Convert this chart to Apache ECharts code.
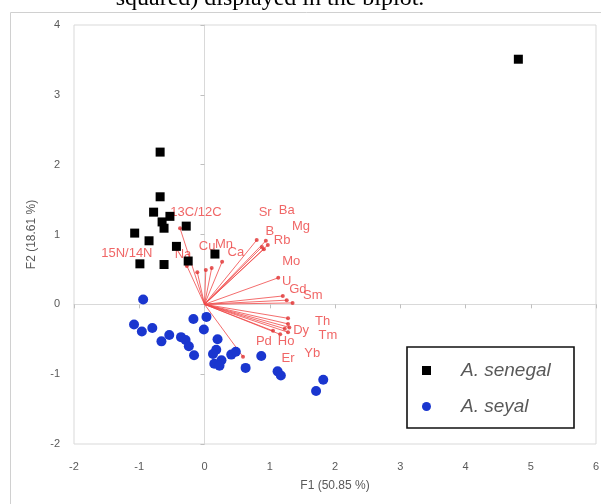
<!DOCTYPE html>
<html><head><meta charset="utf-8">
<script src="https://cdn.jsdelivr.net/npm/echarts@6/dist/echarts.min.js"></script>
<style>html,body{margin:0;padding:0;background:#fff}#c{width:601px;height:504px}</style>
</head><body><div id="c"></div>
<script>
// ---- data ----
const senegalX = [-0.68,-0.68,-0.78,-0.53,-0.65,-0.62,-0.28,-1.07,-0.85,-0.43,-0.99,-0.62,-0.25,0.16,4.81];
const senegalY = [2.18,1.54,1.32,1.26,1.18,1.09,1.12,1.02,0.91,0.83,0.58,0.57,0.62,0.72,3.51];
const seyalX = [-0.94,-1.08,-0.96,-0.80,-0.17,0.03,-0.01,-0.54,-0.66,-0.36,-0.29,-0.24,-0.16,0.20,0.18,0.13,0.15,0.26,0.23,0.41,0.48,0.63,0.87,1.12,1.17,1.82,1.71];
const seyalY = [0.07,-0.29,-0.39,-0.34,-0.21,-0.18,-0.36,-0.44,-0.53,-0.47,-0.51,-0.60,-0.73,-0.50,-0.65,-0.71,-0.85,-0.80,-0.88,-0.72,-0.68,-0.91,-0.74,-0.96,-1.02,-1.08,-1.24];
const varNames = ['13C/12C','15N/14N','Na','Cu','Mn','Ca','Sr','Ba','Mg','B','Rb','Mo','U','Gd','Sm','Th','Dy','Tm','Yb','Ho','Pd','Er',''];
const varX = [-0.375,-0.27,-0.11,0.02,0.11,0.27,0.80,0.94,0.97,0.88,0.91,1.13,1.20,1.26,1.35,1.28,1.28,1.30,1.28,1.23,1.05,1.16,0.59];
const varY = [1.09,0.55,0.46,0.49,0.52,0.61,0.92,0.91,0.85,0.82,0.79,0.38,0.12,0.06,0.02,-0.20,-0.28,-0.33,-0.40,-0.35,-0.38,-0.43,-0.75];
const labelX = [-0.13,-1.19,-0.33,0.04,0.30,0.48,0.93,1.26,1.48,1.00,1.19,1.33,1.26,1.43,1.66,1.81,1.48,1.89,1.65,1.25,0.91,1.28,0];
const labelY = [1.31,0.73,0.71,0.83,0.86,0.75,1.31,1.35,1.11,1.04,0.92,0.61,0.33,0.22,0.13,-0.25,-0.37,-0.45,-0.70,-0.53,-0.53,-0.77,0];
const xTickLabels = ['-2','-1','0','1','2','3','4','5','6'];
const yTickLabels = ['-2','-1','0','1','2','3','4'];
const xTitle = 'F1 (50.85 %)';
const yTitle = 'F2 (18.61 %)';
const seriesNames = ['A. senegal','A. seyal'];
const caption = 'squared) displayed in the biplot.';

// ---- build ----
const zip = (a,b) => a.map((v,i)=>[v,b[i]]);
const chart = echarts.init(document.getElementById('c'), null, {renderer:'canvas'});
const gray = '#595959';
const vecLines = varX.map((x,i)=>({coords:[[0,0],[x,varY[i]]]}));
const vecEnds = varX.map((x,i)=>[x,varY[i]]);
const vecLabels = varNames.map((n,i)=>({name:n, value:[labelX[i],labelY[i]]})).filter(d=>d.name);

chart.setOption({
  animation:false,
  grid:{left:74,top:25,right:5,bottom:60,show:true,borderColor:'#d9d9d9',borderWidth:1,backgroundColor:'transparent',outerBoundsMode:'none'},
  xAxis:[
    {type:'value',min:-2,max:6,interval:1,position:'bottom',
     axisLine:{show:false,onZero:false},axisTick:{show:false},splitLine:{show:false},
     axisLabel:{margin:17,color:gray,fontSize:11,fontFamily:'Liberation Sans',formatter:(v)=>xTickLabels[Math.round(v+2)]},
     name:xTitle,nameLocation:'middle',nameGap:36,nameTextStyle:{color:gray,fontSize:12,fontFamily:'Liberation Sans'}},
    {type:'value',min:-2,max:6,interval:1,position:'bottom',
     axisLine:{show:true,onZero:true,onZeroAxisIndex:0,lineStyle:{color:'#d9d9d9',width:1}},
     axisTick:{show:true,length:4,lineStyle:{color:'#bfbfbf'}},axisLabel:{show:false},splitLine:{show:false}}
  ],
  yAxis:[
    {type:'value',min:-2,max:4,interval:1,position:'left',
     axisLine:{show:false,onZero:false},axisTick:{show:false},splitLine:{show:false},
     axisLabel:{margin:14,color:gray,fontSize:11,fontFamily:'Liberation Sans',formatter:(v)=>yTickLabels[Math.round(v+2)]},
     name:yTitle,nameLocation:'middle',nameGap:36,nameTextStyle:{color:gray,fontSize:12,fontFamily:'Liberation Sans'}},
    {type:'value',min:-2,max:4,interval:1,position:'left',
     axisLine:{show:true,onZero:true,onZeroAxisIndex:0,lineStyle:{color:'#d9d9d9',width:1}},
     axisTick:{show:true,length:4,lineStyle:{color:'#bfbfbf'}},axisLabel:{show:false},splitLine:{show:false}}
  ],
  legend:{orient:'vertical',left:422,top:361,padding:0,itemGap:17,itemWidth:9,itemHeight:9,
    data:[{name:seriesNames[0],icon:'rect'},{name:seriesNames[1],icon:'circle'}],
    textStyle:{color:gray,fontSize:19,fontStyle:'italic',fontFamily:'Liberation Sans',lineHeight:18,padding:[0,0,0,25]}},
  graphic:[
    {type:'rect',shape:{x:10.5,y:12.5,width:620,height:520},style:{fill:null,stroke:'#d0d0d0',lineWidth:1},silent:true,z:-1},
    {type:'rect',shape:{x:407,y:347,width:167,height:81},style:{fill:null,stroke:'#111',lineWidth:1.6},silent:true,z:5},
    {type:'text',style:{text:caption,x:270,y:11,textAlign:'center',align:'center',textVerticalAlign:'bottom',verticalAlign:'bottom',font:'24px "Liberation Serif"',fill:'#000'},silent:true}
  ],
  series:[
    {type:'lines',coordinateSystem:'cartesian2d',z:1,silent:true,
     lineStyle:{color:'#f04848',width:1,opacity:0.8},data:vecLines},
    {type:'scatter',z:2,silent:true,symbol:'circle',symbolSize:4,itemStyle:{color:'#e03030'},data:vecEnds},
    {type:'scatter',z:2,silent:true,symbolSize:0,data:vecLabels,
     label:{show:true,position:'inside',formatter:'{b}',color:'#ec4040',fontSize:13,fontFamily:'Liberation Sans'}},
    {name:seriesNames[1],type:'scatter',z:3,symbol:'circle',symbolSize:10,itemStyle:{color:'#1a36cf',opacity:1},data:zip(seyalX,seyalY)},
    {name:seriesNames[0],type:'scatter',z:3,symbol:'rect',symbolSize:9,itemStyle:{color:'#000',opacity:1},data:zip(senegalX,senegalY)}
  ]
});
</script></body></html>
